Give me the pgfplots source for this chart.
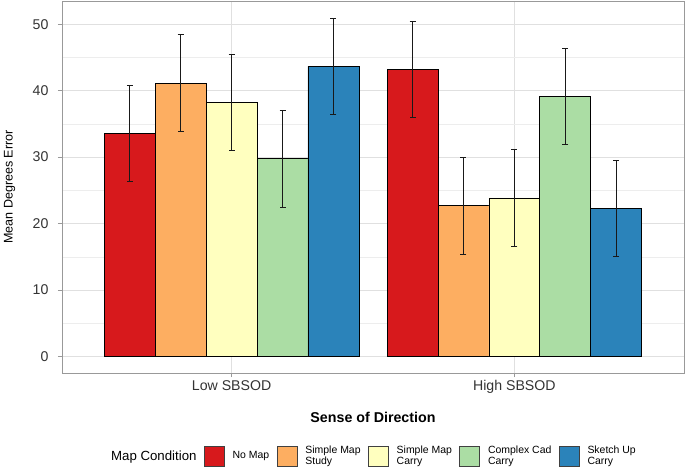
\documentclass[border=0pt]{standalone}
\usepackage{fontspec}
\setmainfont{Liberation Sans}
\usepackage{pgfplots}
\pgfplotsset{compat=1.18}

\definecolor{cNoMap}{HTML}{D7191C}
\definecolor{cSMS}{HTML}{FDAE61}
\definecolor{cSMC}{HTML}{FFFFBF}
\definecolor{cCCC}{HTML}{ABDDA4}
\definecolor{cSUC}{HTML}{2B83BA}

\pgfplotsset{
  sqkey/.style={legend image code/.code={\draw[fill=#1, draw=black!75, line width=0.6bp] (0bp,-10bp) rectangle (20bp,10bp);}},
  errs/.style={error bars/.cd, y dir=both, y explicit,
    error mark=|,
    error bar style={black!90, line width=0.8bp},
    error mark options={black!90, mark size=3bp, line width=0.8bp}},
}

\begin{document}
\begin{tikzpicture}
\useasboundingbox (-62bp,-96bp) rectangle (623bp,373bp);
\begin{axis}[
    at={(0,0)}, anchor=south west,
    scale only axis,
    width=622bp, height=372bp,
    xmin=0.4, xmax=2.6,
    ymin=-2.5, ymax=53.5,
    xtick={1,2},
    xticklabels={Low SBSOD, High SBSOD},
    ytick={0,10,...,50},
    minor ytick={5,15,...,45},
    tick pos=left,
    tick align=outside,
    major tick length=4bp,
    minor tick length=0bp,
    grid=both,
    major grid style={draw=black!12, line width=0.6bp},
    minor grid style={draw=black!7, line width=0.4bp},
    axis line style={draw=black!40, line width=0.8bp},
    tick style={draw=black!40, line width=0.6bp},
    /pgf/number format/assume math mode=true,
    tick label style={font=\fontsize{14.2}{16}\selectfont, text=black!80},
    yticklabel style={xshift=-6bp},
    ybar, bar width=0.18,
    ylabel={Mean Degrees Error},
    xlabel={Sense of Direction},
    every axis y label/.style={at={(rel axis cs:0,0.5)}, xshift=-52.5bp, rotate=90, anchor=center,
      font=\fontsize{12.6}{14}\selectfont},
    every axis x label/.style={at={(rel axis cs:0.5,0)}, yshift=-49.7bp, anchor=base,
      font=\bfseries\fontsize{14.3}{16}\selectfont},
    legend style={at={(0.4955,-0.223)}, anchor=center, draw=none, fill=none,
      legend columns=-1,
      font=\fontsize{10.5}{11}\selectfont,
      nodes={align=left, inner sep=1.5bp},
      /tikz/every odd column/.append style={column sep=6.5bp},
      /tikz/every even column/.append style={column sep=6bp}},
    legend cell align=left,
]
\addlegendimage{empty legend}
\addlegendentry{\fontsize{13.3}{14}\selectfont Map Condition}

\addplot[fill=cNoMap, draw=black, line width=0.7bp, bar shift=-0.36, sqkey=cNoMap, errs]
  coordinates {(1,33.6) +- (0,7.2) (2,43.2) +- (0,7.25)};
\addlegendentry{No Map}

\addplot[fill=cSMS, draw=black, line width=0.7bp, bar shift=-0.18, sqkey=cSMS, errs]
  coordinates {(1,41.15) +- (0,7.25) (2,22.7) +- (0,7.3)};
\addlegendentry{Simple Map\\Study}

\addplot[fill=cSMC, draw=black, line width=0.7bp, bar shift=0, sqkey=cSMC, errs]
  coordinates {(1,38.2) +- (0,7.25) (2,23.85) +- (0,7.25)};
\addlegendentry{Simple Map\\Carry}

\addplot[fill=cCCC, draw=black, line width=0.7bp, bar shift=0.18, sqkey=cCCC, errs]
  coordinates {(1,29.75) +- (0,7.25) (2,39.15) +- (0,7.25)};
\addlegendentry{Complex Cad\\Carry}

\addplot[fill=cSUC, draw=black, line width=0.7bp, bar shift=0.36, sqkey=cSUC, errs]
  coordinates {(1,43.65) +- (0,7.25) (2,22.3) +- (0,7.25)};
\addlegendentry{Sketch Up\\Carry}
\end{axis}
\end{tikzpicture}
\end{document}
